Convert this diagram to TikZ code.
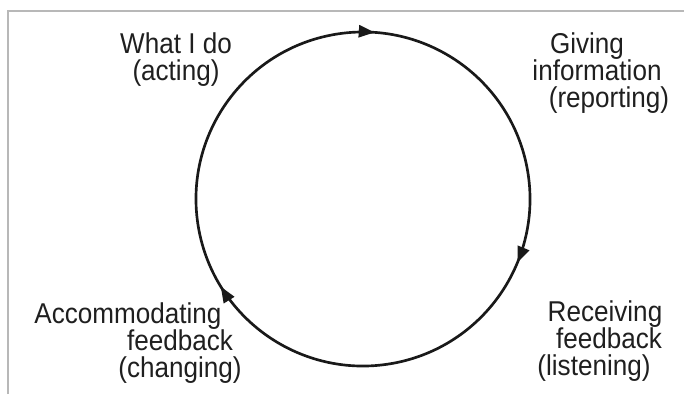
\documentclass[tikz,border=0pt]{standalone}
\usepackage{fontspec}
\setmainfont{Liberation Sans}[FakeStretch=0.91]
\usetikzlibrary{arrows.meta,decorations.markings}

\begin{document}
\begin{tikzpicture}[
        x=0.75pt, y=-0.75pt, font=\fontsize{21.5}{24}\selectfont,
        lbl/.style={anchor=base, inner sep=0pt, text=black!88},
        cyc/.style={line width=2pt, draw=black!90, postaction={decorate},
            decoration={markings,
                mark=at position 0.039 with {\arrow{Triangle[length=12pt,width=9pt]}},
                mark=at position 0.34 with {\arrow{Triangle[length=12pt,width=9pt]}},
                mark=at position 0.69 with {\arrow{Triangle[length=12pt,width=9pt]}}}},
        frame/.style={draw=black!28, line width=0.8pt}
    ]
        \useasboundingbox (0,0) rectangle (684,394);
        % frame lines
        \coordinate (tl) at (8,11);
        \coordinate (tr) at (684,11);
        \coordinate (bl) at (8,394);
        \draw[frame] (bl) -- (tl) -- (tr);
        % the cycle
        \coordinate (c) at (363,199);
        \draw[cyc] (c) ++(-100:167) arc[start angle=-100, end angle=260, radius=167];
        % top left
        \node[lbl] (act1) at (176,53) {What I do};
        \node[lbl] (act2) at (176,80) {(acting)};
        % top right
        \node[lbl] (rep1) at (587,53) {Giving};
        \node[lbl] (rep2) at (597,80) {information};
        \node[lbl] (rep3) at (609,107) {(reporting)};
        % bottom right
        \node[lbl] (lis1) at (605,321) {Receiving};
        \node[lbl] (lis2) at (609,348) {feedback};
        \node[lbl] (lis3) at (594,375) {(listening)};
        % bottom left
        \node[lbl] (chg1) at (128,323) {Accommodating};
        \node[lbl] (chg2) at (180,350) {feedback};
        \node[lbl] (chg3) at (180,377) {(changing)};
\end{tikzpicture}
\end{document}
